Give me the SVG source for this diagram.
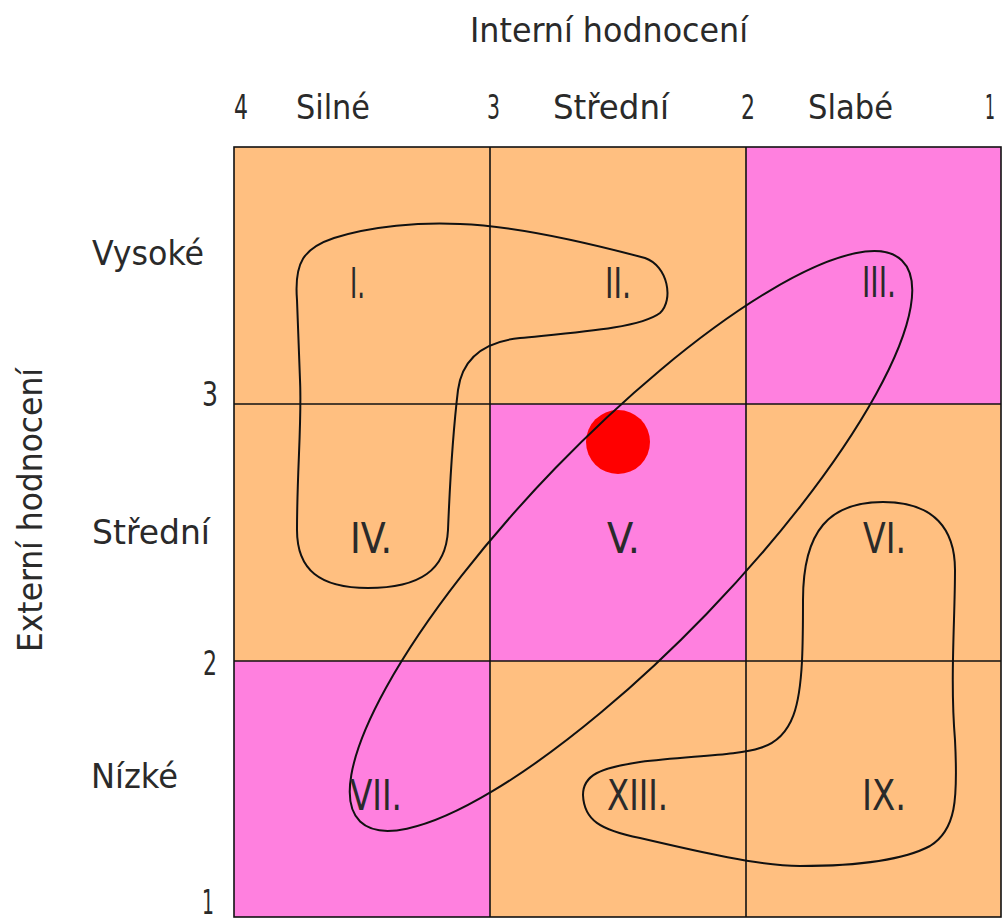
<svg xmlns="http://www.w3.org/2000/svg" width="1002" height="924" viewBox="0 0 1002 924">
<style>
.o{fill:#ffbf80}
.p{fill:#ff80df}
.g{stroke:#111;stroke-width:1.6;fill:none}
.c{stroke:#111;stroke-width:2;fill:none}
.t{font-family:"DejaVu Sans Condensed","DejaVu Sans",sans-serif;font-size:33px;fill:#2a2a2a}
.l{font-family:"DejaVu Sans Condensed","DejaVu Sans",sans-serif;font-size:42px;fill:#2a2a2a}
</style>
<rect width="1002" height="924" fill="#fff"/>
<g id="cells">
<rect id="cell-I" class="o" x="234" y="147" width="256" height="257"/>
<rect id="cell-II" class="o" x="490" y="147" width="256" height="257"/>
<rect id="cell-III" class="p" x="746" y="147" width="255" height="257"/>
<rect id="cell-IV" class="o" x="234" y="404" width="256" height="257"/>
<rect id="cell-V" class="p" x="490" y="404" width="256" height="257"/>
<rect id="cell-VI" class="o" x="746" y="404" width="255" height="257"/>
<rect id="cell-VII" class="p" x="234" y="661" width="256" height="256"/>
<rect id="cell-XIII" class="o" x="490" y="661" width="256" height="256"/>
<rect id="cell-IX" class="o" x="746" y="661" width="255" height="256"/>
</g>
<g id="grid" class="g">
<rect x="234" y="147" width="767" height="770"/>
<line x1="490" y1="147" x2="490" y2="917"/>
<line x1="746" y1="147" x2="746" y2="917"/>
<line x1="234" y1="404" x2="1001" y2="404"/>
<line x1="234" y1="661" x2="1001" y2="661"/>
</g>
<g id="marker-point">
<circle cx="618" cy="442" r="32" fill="#ff0000"/>
</g>
<g id="connectors" class="c">
<path id="blob-left" d="M297,300 C294,262 304,248 334,238 C372,226 420,222 460,224 C520,226 600,246 645,258 C668,266 674,300 660,313 C640,328 580,332 520,338 C482,342 462,360 458,390 C452,440 450,480 448,530 C446,570 420,588 368,588 C320,588 297,570 297,530 C297,470 302,420 300,380 C299,350 298,320 297,300 Z"/>
<ellipse id="ellipse-diag" cx="631" cy="541" rx="390" ry="105" transform="rotate(-46 631 541)"/>
<path id="blob-right" d="M803,600 C803,530 830,502 883,502 C935,502 955,530 955,570 C955,620 950,680 955,740 C958,800 956,830 930,846 C900,862 850,866 800,866 C760,866 700,852 640,838 C600,830 584,820 583,795 C583,775 600,768 640,762 C690,756 740,755 760,748 C795,738 800,700 802,661 C803,640 803,620 803,600 Z"/>
</g>
<g id="cell-labels" class="l">
<text x="350" y="298" textLength="15" lengthAdjust="spacingAndGlyphs">I.</text>
<text x="605" y="298" textLength="26" lengthAdjust="spacingAndGlyphs">II.</text>
<text x="862" y="297" textLength="34" lengthAdjust="spacingAndGlyphs">III.</text>
<text x="350" y="553" textLength="42" lengthAdjust="spacingAndGlyphs">IV.</text>
<text x="607" y="553" textLength="33" lengthAdjust="spacingAndGlyphs">V.</text>
<text x="863" y="553" textLength="43" lengthAdjust="spacingAndGlyphs">VI.</text>
<text x="350" y="810" textLength="52" lengthAdjust="spacingAndGlyphs">VII.</text>
<text x="607" y="810" textLength="61" lengthAdjust="spacingAndGlyphs">XIII.</text>
<text x="862" y="810" textLength="44" lengthAdjust="spacingAndGlyphs">IX.</text>
</g>
<g id="top-axis" class="t">
<text x="470" y="42" textLength="278" lengthAdjust="spacingAndGlyphs">Interní hodnocení</text>
<text x="234" y="119" textLength="14" lengthAdjust="spacingAndGlyphs">4</text>
<text x="296" y="119" textLength="74" lengthAdjust="spacingAndGlyphs">Silné</text>
<text x="487" y="119" textLength="13" lengthAdjust="spacingAndGlyphs">3</text>
<text x="553" y="119" textLength="116" lengthAdjust="spacingAndGlyphs">Střední</text>
<text x="741" y="119" textLength="14" lengthAdjust="spacingAndGlyphs">2</text>
<text x="808" y="119" textLength="85" lengthAdjust="spacingAndGlyphs">Slabé</text>
<text x="985" y="119" textLength="10" lengthAdjust="spacingAndGlyphs">1</text>
</g>
<g id="left-axis" class="t">
<text x="42" y="652" transform="rotate(-90 42 652)" textLength="284" lengthAdjust="spacingAndGlyphs">Externí hodnocení</text>
<text x="92" y="265" textLength="112" lengthAdjust="spacingAndGlyphs">Vysoké</text>
<text x="202" y="406" textLength="16" lengthAdjust="spacingAndGlyphs">3</text>
<text x="92" y="544" textLength="118" lengthAdjust="spacingAndGlyphs">Střední</text>
<text x="203" y="675" textLength="14" lengthAdjust="spacingAndGlyphs">2</text>
<text x="91" y="788" textLength="87" lengthAdjust="spacingAndGlyphs">Nízké</text>
<text x="202" y="914" textLength="12" lengthAdjust="spacingAndGlyphs">1</text>
</g>
</svg>
